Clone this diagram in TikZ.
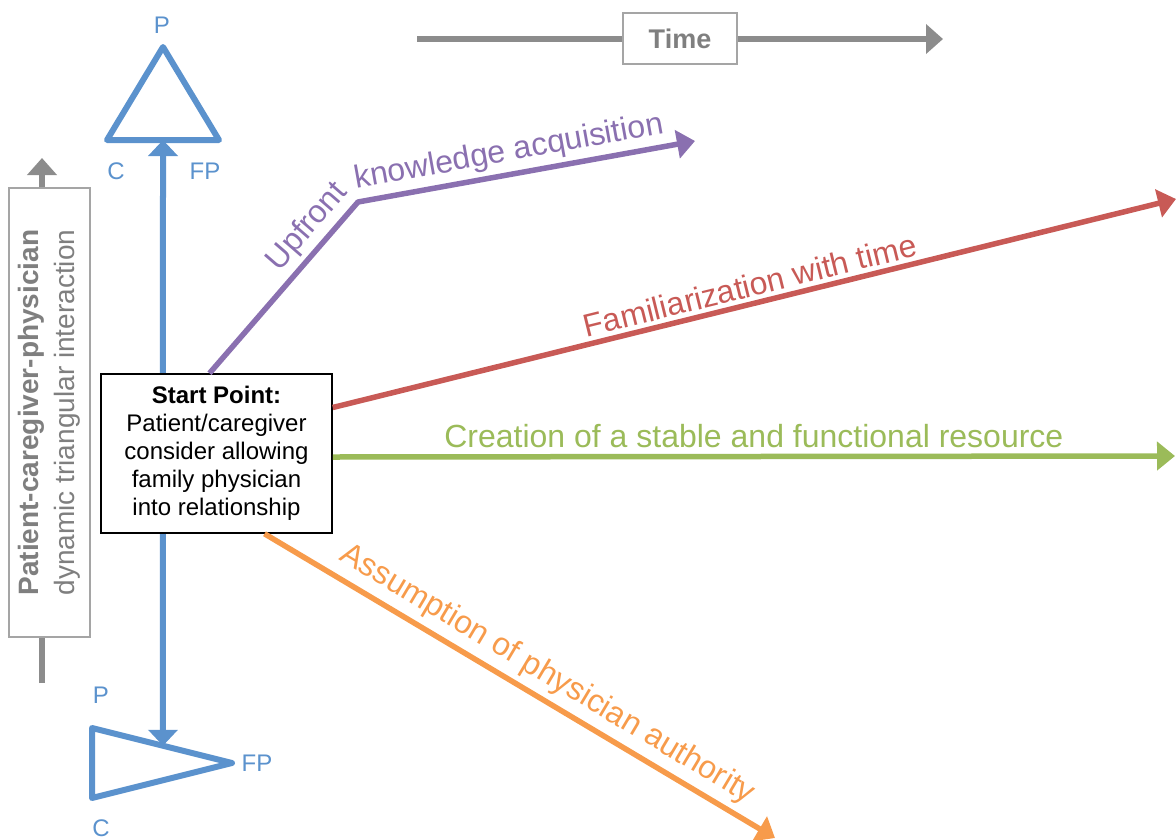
\documentclass[tikz,border=0pt]{standalone}
\usepackage{fontspec}
\setmainfont{Liberation Sans}
\usetikzlibrary{arrows.meta,positioning,calc}
\definecolor{triblue}{RGB}{91,146,205}
\definecolor{axisgray}{RGB}{140,140,140}
\definecolor{boxgray}{RGB}{165,165,165}
\definecolor{textgray}{RGB}{127,127,127}
\definecolor{upfront}{RGB}{138,112,176}
\definecolor{familiar}{RGB}{200,90,86}
\definecolor{stable}{RGB}{155,187,89}
\definecolor{authority}{RGB}{247,155,75}
\tikzset{vertex/.style={text=triblue, font=\fontsize{24}{28}\selectfont, inner sep=0pt}}
\tikzset{triangle/.style={draw=triblue, line width=6pt, line join=round}}
\tikzset{startbox/.style={rectangle, draw, fill=white, line width=1.5pt, minimum width=231pt, minimum height=159pt,
 align=center, font=\fontsize{24}{28}\selectfont}}
\tikzset{axisbox/.style={rectangle, draw=boxgray, fill=white, line width=1.5pt, text=textgray, align=center}}
\tikzset{grayline/.style={draw=axisgray, line width=6pt}}
\tikzset{grayarrow/.style={grayline, -{Triangle[length=17pt,width=29pt]}}}
\tikzset{line/.style={draw, line width=5.5pt, line join=round, -{Triangle[length=18pt,width=28pt]}}}
\tikzset{pathlabel/.style={sloped, above, inner sep=4pt, font=\fontsize{32}{38}\selectfont}}

\begin{document}
\begin{tikzpicture}[x=1pt, y=-1pt]
        \useasboundingbox (0,0) rectangle (1176,839);

        % triangles
        \coordinate (tp) at (163,47);
        \coordinate (tc) at (107,140);
        \coordinate (tf) at (219,140);
        \coordinate (bp) at (92,728);
        \coordinate (bf) at (232,763);
        \coordinate (bc) at (92,798);
        \draw[triangle] (tp) -- (tf) -- (tc) -- cycle;
        \draw[triangle] (bp) -- (bf) -- (bc) -- cycle;
        \node[vertex] (tpl) at (162,25)  {P};
        \node[vertex] (tcl) at (116,171) {C};
        \node[vertex] (tfl) at (205,171) {FP};
        \node[vertex] (bpl) at (101,695) {P};
        \node[vertex] (bfl) at (257,763) {FP};
        \node[vertex] (bcl) at (101,828) {C};
        \draw[draw=triblue, line width=6pt, {Triangle[length=16pt,width=29pt]}-{Triangle[length=16pt,width=29pt]}]
              ($(bp)!0.507!(bf)$) -- ($(tc)!0.5!(tf)$);

        % time axis
        \node[axisbox, minimum width=114pt, minimum height=51pt, font=\bfseries\fontsize{27}{32}\selectfont]
              (time) at (680,38.5) {Time};
        \coordinate (tstart) at (417,39);
        \coordinate (tend) at (943,39);
        \path[grayline]  (tstart) -- (tstart -| time.west);
        \path[grayarrow] (tend -| time.east) -- (tend);

        % interaction axis
        \node[axisbox, rotate=90, minimum width=449pt, minimum height=81pt, font=\fontsize{28}{36}\selectfont]
              (axis) at (49.5,412.5) {\textbf{Patient-caregiver-physician}\\dynamic triangular interaction};
        \coordinate (abot) at (42,683);
        \coordinate (atop) at (42,158);
        \path[grayline]  (abot) -- (abot |- axis.west);
        \path[grayarrow] (atop |- axis.east) -- (atop);

        % start point
        \node[startbox] (start) at (216.5,453.5) {\textbf{Start Point:}\\Patient/caregiver\\consider allowing\\family physician\\into relationship};

        \coordinate (bend) at (358,202);
        \coordinate (kend) at (695,141);
        \coordinate (fend) at (1176,199);
        \coordinate (send) at (1175,456);
        \coordinate (aend) at (775,838);

        \path[line, upfront] ([xshift=-7pt]start.north) -- node[pathlabel, pos=0.77]{Upfront}
              (bend) -- node[pathlabel, pos=0.46]{knowledge acquisition} (kend);
        \path[line, familiar] ([yshift=46pt]start.east) -- node[pathlabel, pos=0.5]{Familiarization with time} (fend);
        \path[line, stable] ([yshift=-3.5pt]start.east) -- node[pathlabel, pos=0.5, inner sep=6pt]{Creation of a stable and functional resource} (send);
        \path[line, authority] ([xshift=48pt]start.south) -- node[pathlabel, pos=0.53, inner sep=6pt]{Assumption of physician authority} (aend);
      \end{tikzpicture}
\end{document}
